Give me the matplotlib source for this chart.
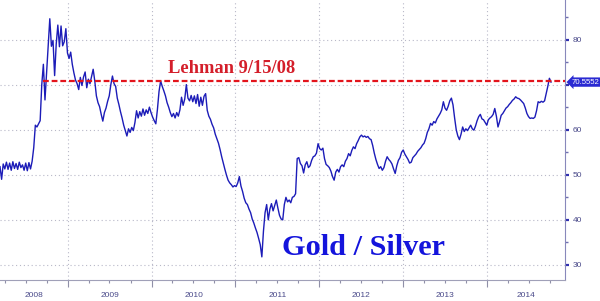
import numpy as np
import pandas as pd
import matplotlib
matplotlib.use('Agg')
import matplotlib.pyplot as plt
import matplotlib.dates as mdates
import matplotlib.transforms as mtransforms
from matplotlib.ticker import MultipleLocator

# DATA ######
start_date = '2008-03-11'
ratio = [
    51.8, 49.0, 52.4, 51.3, 52.8, 51.2, 52.6, 51.0, 52.9, 51.4,
    52.5, 51.2, 52.8, 51.6, 52.2, 51.0, 52.6, 50.9, 52.7, 51.3,
    53.0, 56.0, 61.0, 60.6, 61.3, 62.0, 70.0, 74.5, 66.6, 72.5,
    78.0, 84.6, 78.5, 79.8, 72.0, 79.0, 83.2, 78.4, 83.0, 78.6,
    79.5, 82.4, 77.0, 75.8, 77.2, 74.5, 72.6, 71.0, 70.2, 68.9,
    71.6, 69.8, 71.7, 72.8, 69.3, 71.2, 70.2, 71.8, 73.4, 70.8,
    67.5, 66.0, 65.1, 63.4, 61.9, 63.8, 64.8, 66.3, 67.5, 70.0,
    71.9, 70.2, 69.6, 67.0, 65.6, 64.0, 62.6, 61.0, 59.8, 58.6,
    60.2, 59.4, 60.5, 59.8, 61.6, 64.2, 62.6, 64.0, 63.0, 64.6,
    63.2, 64.4, 63.6, 65.0, 63.8, 62.8, 62.0, 61.3, 64.5, 68.5,
    70.8, 69.6, 68.6, 67.5, 66.0, 65.0, 63.8, 62.9, 63.6, 62.6,
    63.8, 63.0, 64.4, 67.2, 65.4, 66.8, 70.0, 67.0, 66.4, 67.6,
    66.2, 67.5, 65.8, 67.8, 65.2, 67.2, 65.4, 67.4, 68.0, 64.3,
    63.0, 62.3, 61.2, 60.4, 59.0, 58.0, 57.0, 55.6, 54.0, 52.6,
    51.2, 49.9, 48.8, 48.2, 47.8, 47.3, 47.6, 47.4, 48.2, 49.6,
    47.5, 46.3, 44.8, 43.8, 43.4, 42.4, 41.6, 40.2, 39.3, 38.2,
    37.2, 35.9, 34.5, 31.8, 37.5, 41.6, 43.4, 40.0, 42.4, 43.6,
    42.0, 43.2, 44.4, 42.6, 41.0, 40.2, 40.0, 43.4, 45.0, 44.0,
    44.4, 43.8, 45.0, 45.2, 45.8, 53.6, 53.8, 52.5, 52.0, 50.4,
    52.2, 52.9, 51.6, 52.0, 53.2, 54.0, 54.2, 54.8, 56.9, 55.8,
    55.5, 55.9, 53.6, 52.3, 52.0, 51.6, 50.8, 49.6, 48.8, 50.6,
    51.2, 50.6, 51.8, 52.2, 51.8, 53.0, 53.6, 54.7, 54.2, 55.4,
    56.2, 55.8, 56.9, 57.6, 58.4, 58.8, 58.4, 58.6, 58.3, 58.5,
    58.0, 57.8, 56.5, 54.8, 53.4, 52.3, 51.4, 51.8, 51.0, 51.6,
    53.0, 54.0, 53.4, 53.0, 52.4, 51.3, 50.3, 52.0, 53.2, 53.8,
    55.0, 55.5, 54.6, 54.0, 53.4, 52.6, 52.8, 53.8, 54.2, 54.6,
    55.2, 55.6, 56.0, 56.6, 57.0, 58.0, 59.4, 60.2, 61.4, 61.0,
    61.8, 61.5, 62.4, 63.0, 63.6, 64.4, 66.2, 64.8, 64.3, 65.2,
    66.4, 67.0, 65.5, 62.6, 60.0, 58.6, 57.8, 59.0, 60.6, 59.6,
    60.2, 59.8, 60.4, 61.0, 60.2, 59.9, 60.8, 62.0, 62.9, 63.4,
    62.4, 62.2, 61.6, 61.0, 62.2, 62.6, 62.9, 63.4, 64.7, 63.0,
    60.6, 61.8, 63.2, 63.6, 64.2, 64.8, 65.1, 65.6, 66.0, 66.5,
    66.8, 67.3, 67.0, 66.9, 66.6, 66.2, 65.8, 64.8, 63.6, 62.9,
    62.5, 62.6, 62.5, 62.8, 64.2, 66.2, 66.0, 66.3, 66.1, 66.4,
    68.0, 69.6, 71.4, 70.5552,
]
dates = pd.date_range(start_date, periods=len(ratio), freq='7D')

lehman_date = '2008-09-15'
lehman_level = 70.8
last_value = 70.5552
years = [2008, 2009, 2010, 2011, 2012, 2013, 2014]
y_ticks = [30, 40, 50, 60, 70, 80]
y_labels = ['30', '40', '50', '60', '', '80']

# PLOT ######
fig = plt.figure(figsize=(6, 3.01), dpi=100)
ax = fig.add_axes([0, 21 / 301, 565 / 600, 280 / 301])

x_min = mdates.date2num(pd.Timestamp('2008-03-11'))
x_max = mdates.date2num(pd.Timestamp('2014-12-07'))
ax.set_xlim(x_min, x_max)
ax.set_ylim(26.67, 88.76)

# grid
grid_style = dict(color='#b8b8c8', linestyle=(0, (1, 2.5)), linewidth=0.8, zorder=1)
for v in y_ticks:
    ax.axhline(v, **grid_style)
for yr in years[1:]:
    ax.axvline(mdates.date2num(pd.Timestamp(f'{yr}-01-01')), **grid_style)

ax.plot(dates, ratio, color='#1c1cb8', linewidth=1.0, zorder=3)

# lehman level
ax.plot([pd.Timestamp(lehman_date), pd.Timestamp('2014-12-07')], [lehman_level, lehman_level],
        color='#e3141c', linewidth=1.6, dashes=(2.6, 1.3), zorder=4)
ax.text(168 / 565, 72.64, 'Lehman 9/15/08', color='#d41e2a', fontsize=13.3,
        family='Liberation Serif', fontweight='bold', va='baseline', ha='left',
        transform=mtransforms.blended_transform_factory(ax.transAxes, ax.transData))

ax.text(363.5 / 565, 32.2, 'Gold / Silver', color='#1414dc', fontsize=21.8,
        family='Liberation Serif', fontweight='bold', va='baseline', ha='center',
        transform=mtransforms.blended_transform_factory(ax.transAxes, ax.transData))

# axes styling
for s in ['left', 'top']:
    ax.spines[s].set_visible(False)
ax.spines['right'].set_color('#8888bb')
ax.spines['bottom'].set_color('#a0a0b8')

ax.yaxis.tick_right()
ax.set_yticks(y_ticks)
ax.set_yticklabels(y_labels)
ax.yaxis.set_minor_locator(MultipleLocator(5))
ax.tick_params(axis='y', which='major', length=3, width=1.6, color='#3030b0',
               labelcolor='#4a4a8a', labelsize=6, pad=2.5, labelfontfamily='Liberation Sans')
ax.tick_params(axis='y', which='minor', length=2, width=1, color='#7070b0')

ax.xaxis.set_major_locator(mdates.YearLocator())
ax.xaxis.set_minor_locator(mdates.MonthLocator(bymonth=[1, 4, 7, 10]))
ax.xaxis.set_major_formatter(plt.NullFormatter())
ax.tick_params(axis='x', which='major', length=5, width=0.8, color='#9090a8')
ax.tick_params(axis='x', which='minor', length=2.2, width=0.8, color='#9090a8')

# year labels centred on visible part of each year
trans = mtransforms.blended_transform_factory(ax.transData, ax.transAxes)
for yr in years:
    a = max(mdates.date2num(pd.Timestamp(f'{yr}-01-01')), x_min)
    b = min(mdates.date2num(pd.Timestamp(f'{yr + 1}-01-01')), x_max)
    ax.text((a + b) / 2, -0.057, str(yr), transform=trans, ha='center', va='center',
            fontsize=6, color='#4a4a8a', family='Liberation Sans', clip_on=False)

# last value box
ax.text(1.0 + 6.5 / 565, last_value, f'{last_value:.4f}',
        transform=mtransforms.blended_transform_factory(ax.transAxes, ax.transData),
        ha='left', va='center', fontsize=5.6, color='white', family='Liberation Sans',
        bbox=dict(boxstyle='larrow,pad=0.15', fc='#2a2ad2', ec='none'), clip_on=False)

fig.savefig('out.png', dpi=100)
